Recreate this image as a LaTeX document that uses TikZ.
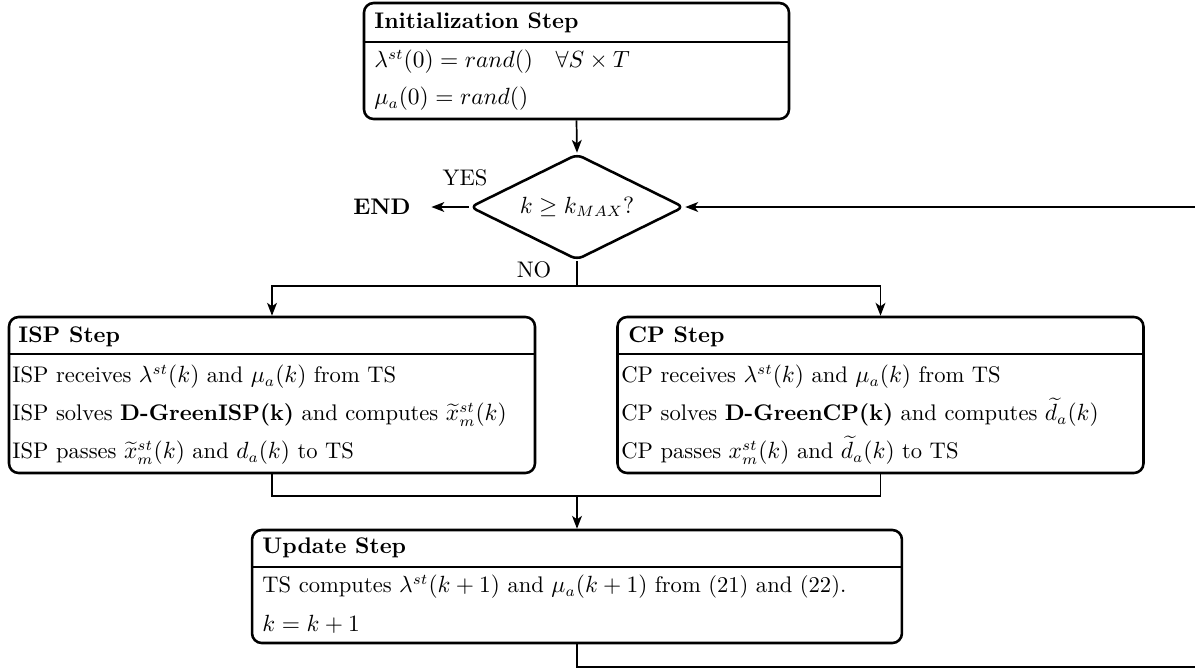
\documentclass[tikz,border=0pt]{standalone}
\usetikzlibrary{shapes.geometric,arrows.meta}
\begin{document}
\begin{tikzpicture}[x=0.4673pt,y=-0.4673pt,
  font=\fontsize{10.55pt}{12.7pt}\selectfont,
  box/.style={draw, line width=1.2pt, rounded corners=4.5pt, inner sep=0pt},
  hline/.style={line width=0.8pt},
  txt/.style={anchor=west, inner sep=0pt, text height=7.9pt, text depth=2.6pt},
  conn/.style={line width=0.8pt},
  arr/.style={conn, -{Stealth[length=6pt,width=4.6pt,inset=1.6pt]}},
  lbl/.style={inner sep=0pt}]
\useasboundingbox (0,0) rectangle (1195,669);

% Initialization box
\node[box, minimum width=198.6pt, minimum height=54.2pt] (init) at (576.5,61) {};
\draw[hline] (init.west |- 0,42) -- (init.east |- 0,42);
\node[txt] (inith) at (374,22.5) {\textbf{Initialization Step}};
\node[txt] (init1) at (374,62) {$\lambda^{st}(0) = rand() \quad \forall S \times T$};
\node[txt] (init2) at (374,99) {$\mu_a(0) = rand()$};

% Decision
\node[draw, diamond, aspect=2, minimum width=100pt, minimum height=49.5pt, inner sep=0pt,
      rounded corners=3pt, line width=1.2pt] (dec) at (577,207) {$k \geq k_{MAX}?$};
\node[lbl] (end) at (382,207) {\textbf{END}};
\node[lbl] (yes) at (465,178) {YES};
\node[lbl] (no) at (534,270) {NO};

% ISP box
\node[box, minimum width=245.8pt, minimum height=72.9pt] (isp) at (272,395) {};
\draw[hline] (isp.west |- 0,354) -- (isp.east |- 0,354);
\node[txt] (isph) at (18,336.5) {\textbf{ISP Step}};
\node[txt] (isp1) at (12,377) {ISP receives $\lambda^{st}(k)$ and $\mu_a(k)$ from TS};
\node[txt] (isp2) at (12,415) {ISP solves \textbf{D-GreenISP(k)} and computes $\widetilde{x}^{st}_m(k)$};
\node[txt] (isp3) at (12,453) {ISP passes $\widetilde{x}^{st}_m(k)$ and $d_a(k)$ to TS};

% CP box
\node[box, minimum width=245.8pt, minimum height=72.9pt] (cp) at (880.5,395) {};
\draw[hline] (cp.west |- 0,354) -- (cp.east |- 0,354);
\node[txt] (cph) at (628,336.5) {\textbf{CP Step}};
\node[txt] (cp1) at (621,377) {CP receives $\lambda^{st}(k)$ and $\mu_a(k)$ from TS};
\node[txt] (cp2) at (621,415) {CP solves \textbf{D-GreenCP(k)} and computes $\widetilde{d}_a(k)$};
\node[txt] (cp3) at (621,453) {CP passes $x^{st}_m(k)$ and $\widetilde{d}_a(k)$ to TS};

% Update box
\node[box, minimum width=303.7pt, minimum height=52.8pt] (upd) at (577,586.5) {};
\draw[hline] (upd.west |- 0,567) -- (upd.east |- 0,567);
\node[txt] (updh) at (262,548) {\textbf{Update Step}};
\node[txt] (upd1) at (262,587) {TS computes $\lambda^{st}(k+1)$ and $\mu_a(k+1)$ from (21) and (22).};
\node[txt] (upd2) at (262,626) {$k = k+1$};

% junctions
\coordinate (j1) at (577,286);
\coordinate (j2) at (577,496);
\coordinate (l1) at (1200,667);
\coordinate (l2) at (1200,207);

% connectors
\draw[arr] (init.south) -- (dec.north);
\draw[arr, shorten >=9.5pt] (dec.west) -- (end.east);
\draw[conn] (dec.south) -- (j1);
\draw[arr] (j1) -| (isp.north);
\draw[arr] (j1) -| (cp.north);
\draw[conn] (isp.south) |- (j2);
\draw[conn] (cp.south) |- (j2);
\draw[arr] (j2) -- (upd.north);
\draw[arr] (upd.south) |- (l1) -- (l2) -- (dec.east);
\end{tikzpicture}
\end{document}
